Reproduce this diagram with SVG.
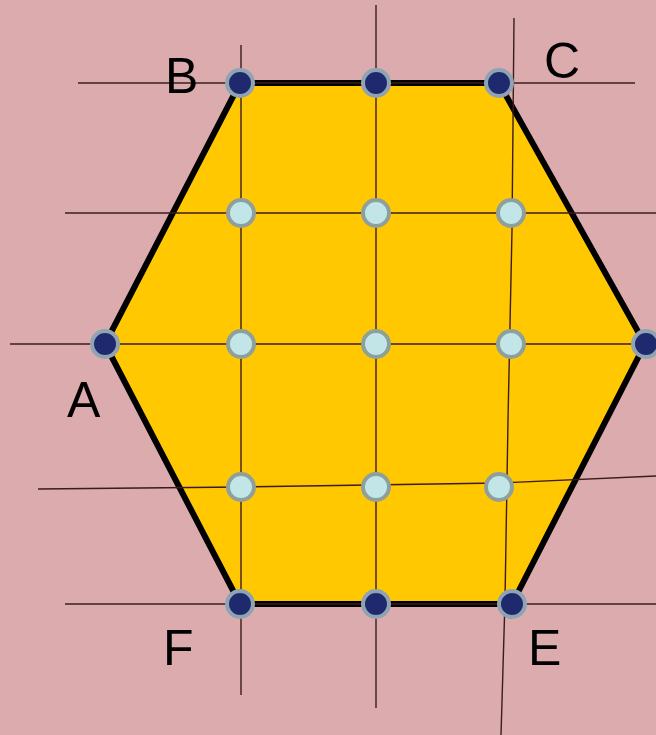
<svg xmlns="http://www.w3.org/2000/svg" width="656" height="735" viewBox="0 0 656 735">
<style>
.grid{stroke:#3b1c1c;stroke-width:1.4;fill:none}
.edge{stroke:#000;stroke-width:6;stroke-linejoin:miter;fill:#ffc800}
.dk{fill:#1f2a6e;stroke:#8fa3b3;stroke-width:4}
.lt{fill:#c2e6e8;stroke:#8fa09c;stroke-width:4}
.lbl{font-family:"Liberation Sans",Arial,sans-serif;font-size:50px;fill:#000}
</style>
<rect width="656" height="735" fill="#dcabae"/>
<g id="hexagon">
<polygon class="edge" points="240,83 499,83 645,344 512,604 240,604 105,344"/>
</g>
<g id="connectors">
<line class="grid" x1="78" y1="83" x2="635" y2="83"/>
<line class="grid" x1="65" y1="213" x2="656" y2="213"/>
<line class="grid" x1="10" y1="344" x2="656" y2="344"/>
<polyline class="grid" points="38,489 241,487 499,483 656,476"/>
<line class="grid" x1="65" y1="604" x2="656" y2="604"/>
<line class="grid" x1="241" y1="45" x2="241" y2="695"/>
<line class="grid" x1="376" y1="5" x2="376" y2="708"/>
<polyline class="grid" points="514,18 512,230 508,420 505,600 501,735"/>
</g>
<g id="B"><circle class="dk" cx="240" cy="83" r="13"/><text class="lbl" x="165" y="93">B</text></g>
<g id="BC"><circle class="dk" cx="376" cy="83" r="13"/></g>
<g id="C"><circle class="dk" cx="499" cy="83" r="13"/><text class="lbl" x="544" y="78">C</text></g>
<g id="A"><circle class="dk" cx="105" cy="344" r="13"/><text class="lbl" x="67" y="417">A</text></g>
<g id="D"><circle class="dk" cx="646" cy="344" r="13"/></g>
<g id="F"><circle class="dk" cx="240" cy="604" r="13"/><text class="lbl" x="163" y="665">F</text></g>
<g id="FE"><circle class="dk" cx="376" cy="604" r="13"/></g>
<g id="E"><circle class="dk" cx="512" cy="604" r="13"/><text class="lbl" x="528" y="665">E</text></g>
<g id="p1"><circle class="lt" cx="241" cy="213" r="13"/></g>
<g id="p2"><circle class="lt" cx="376" cy="213" r="13"/></g>
<g id="p3"><circle class="lt" cx="511" cy="213" r="13"/></g>
<g id="p4"><circle class="lt" cx="241" cy="344" r="13"/></g>
<g id="p5"><circle class="lt" cx="376" cy="344" r="13"/></g>
<g id="p6"><circle class="lt" cx="511" cy="344" r="13"/></g>
<g id="p7"><circle class="lt" cx="241" cy="487" r="13"/></g>
<g id="p8"><circle class="lt" cx="376" cy="487" r="13"/></g>
<g id="p9"><circle class="lt" cx="499" cy="487" r="13"/></g>
</svg>
